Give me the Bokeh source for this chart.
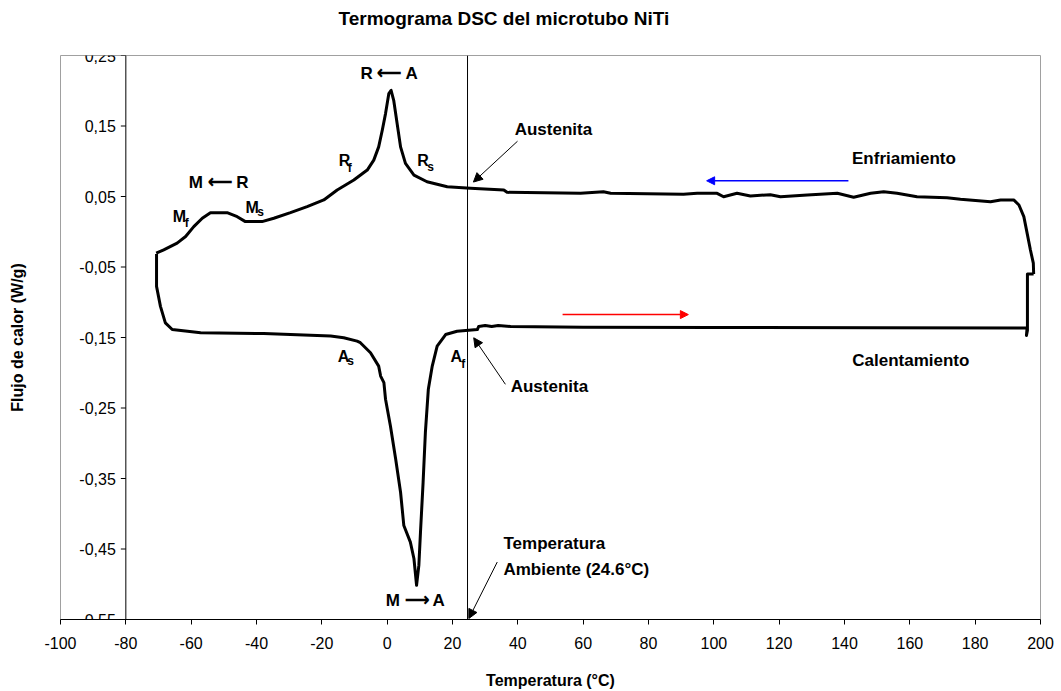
import math
from bokeh.plotting import figure
from bokeh.models import ColumnDataSource, LabelSet, Arrow, NormalHead, Span, FixedTicker, Title
from bokeh.core.properties import value
from bokeh.embed import file_html
from bokeh.resources import INLINE

# ---------------- data ----------------
# Cooling run (Enfriamiento): temperature (°C) and heat flow (W/g), in measured order
cool_T = [197.9, 197.9, 197.8, 196.9, 195.9, 194.9, 193.4, 191.8, 187.8, 184.7, 175.5, 171.4,
          162.2, 156.1, 152.0, 148.0, 142.8, 137.8, 128.6, 120.4, 117.3, 111.2, 107.1, 103.0,
          101.0, 94.9, 90.7, 68.4, 66.2, 59.2, 36.7, 35.7, 25.5, 18.4, 12.2, 8.2, 5.6, 4.1,
          2.9, 2.0, 1.2, 0.5, -0.5, -1.5, -2.6, -4.1, -6.1, -10.2, -15.3, -19.4, -24.5, -29.6,
          -34.7, -38.3, -43.4, -45.9, -49.0, -54.1, -56.6, -59.2, -61.7, -64.3, -68.4, -70.7]
cool_Q = [-0.060, -0.0585, -0.0444, -0.0256, -0.0020, 0.0214, 0.0380, 0.0451, 0.0451, 0.0426,
          0.0460, 0.0483, 0.0497, 0.0545, 0.0568, 0.0545, 0.0489, 0.0545, 0.0521, 0.0497,
          0.0526, 0.0507, 0.0545, 0.0497, 0.0545, 0.0545, 0.0531, 0.0545, 0.0568, 0.0545,
          0.0559, 0.0592, 0.0616, 0.0639, 0.0709, 0.0804, 0.0969, 0.1204, 0.1581, 0.1864,
          0.2005, 0.1959, 0.1676, 0.1440, 0.1204, 0.1016, 0.0875, 0.0733, 0.0592, 0.0451,
          0.0356, 0.0271, 0.0192, 0.0144, 0.0144, 0.0214, 0.0271, 0.0271, 0.0192, 0.0073,
          -0.0068, -0.0161, -0.0256, -0.0303]

# Heating run (Calentamiento)
heat_T = [-70.6, -70.6, -69.4, -67.9, -65.8, -57.1, -37.8, -21.4, -17.3, -13.3, -9.2, -8.2,
          -5.1, -2.6, -2.0, -1.0, -0.5, 1.0, 2.6, 4.1, 5.1, 7.1, 8.2, 9.0, 9.7, 10.2, 11.0,
          11.7, 12.6, 13.8, 15.3, 17.9, 21.4, 27.6, 28.0, 30.0, 32.0, 34.0, 37.8, 60.0, 100.0,
          150.0, 195.9, 195.7, 196.0, 196.0, 197.9]
heat_Q = [-0.0317, -0.0775, -0.1058, -0.1292, -0.1387, -0.1434, -0.1443, -0.1472, -0.1480,
          -0.1504, -0.1552, -0.1574, -0.1716, -0.1906, -0.2047, -0.2140, -0.2376, -0.2754,
          -0.3224, -0.3695, -0.4167, -0.4402, -0.4638, -0.5015, -0.4733, -0.4261, -0.3554,
          -0.2847, -0.2235, -0.1906, -0.1623, -0.1458, -0.1411, -0.1387, -0.1345, -0.1330,
          -0.1345, -0.1330, -0.1345, -0.1355, -0.1358, -0.1360, -0.1365, -0.1470, -0.1400,
          -0.0600, -0.0600]

x_ticks = [-100, -80, -60, -40, -20, 0, 20, 40, 60, 80, 100, 120, 140, 160, 180, 200]
x_tick_labels = ["-100", "-80", "-60", "-40", "-20", "0", "20", "40", "60", "80", "100",
                 "120", "140", "160", "180", "200"]
y_ticks = [0.25, 0.15, 0.05, -0.05, -0.15, -0.25, -0.35, -0.45, -0.55]
y_tick_labels = ["0,25", "0,15", "0,05", "-0,05", "-0,15", "-0,25", "-0,35", "-0,45", "-0,55"]

t_ambiente = 24.6

# main annotation texts (centered)
ann_text = ["R \u27f5 A", "M \u27f5 R", "M \u27f6 A", "Austenita", "Enfriamiento", "Calentamiento"]
ann_x = [0.7, -51.6, 8.7, 50.9, 158.2, 160.3]
ann_y = [0.2246, 0.0705, -0.5231, 0.1454, 0.1044, -0.1825]

# left-aligned annotation texts
lft_text = ["Austenita", "Temperatura", "Ambiente (24.6\u00b0C)"]
lft_x = [37.8, 35.6, 35.6]
lft_y = [-0.2193, -0.4426, -0.4793]

# transformation-point labels: main letter + subscript
pt_main = ["M", "M", "R", "R", "A", "A"]
pt_main_x = [-65.6, -43.4, -14.8, 9.2, -15.1, 19.4]
pt_main_y = [0.0214, 0.0347, 0.1016, 0.1016, -0.1773, -0.1769]
pt_sub = ["f", "s", "f", "s", "s", "f"]
pt_sub_x = [-62.0, -39.8, -12.05, 12.25, -12.2, 22.7]
pt_sub_y = [0.0125, 0.0285, 0.0903, 0.0913, -0.1835, -0.1882]

# pointer arrows (start -> end)
ptr_x0 = [39.9, 36.2, 33.7]
ptr_y0 = [0.1284, -0.2164, -0.4685]
ptr_x1 = [26.4, 26.5, 25.0]
ptr_y1 = [0.0705, -0.1504, -0.5486]

# direction arrows
cool_arrow = dict(x0=141.2, x1=97.8, y=0.0723)
heat_arrow = dict(x0=53.7, x1=92.2, y=-0.1175)

FONT = value("Liberation Sans")

# ---------------- figure ----------------
p = figure(width=1061, height=691, x_range=(-100, 200), y_range=(-0.55, 0.25),
           output_backend="svg", toolbar_location=None, title=None,
           min_border_left=60, min_border_right=21, min_border_top=55, min_border_bottom=70)
p.background_fill_color = "white"
p.border_fill_color = "white"
p.outline_line_color = "#a0a0a0"
p.xgrid.visible = False
p.ygrid.visible = False

# spacer between frame and title, then the title itself (outermost)
p.add_layout(Title(text=" ", text_font_size="1px", standoff=18), "above")
p.add_layout(Title(text="Termograma DSC del microtubo NiTi", text_font="Liberation Sans",
                   text_font_size="19px", text_font_style="bold", text_color="black",
                   align="left", offset=278, standoff=11), "above")

# x axis
p.xaxis.ticker = FixedTicker(ticks=x_ticks)
p.xaxis.major_label_overrides = dict(zip(x_ticks, x_tick_labels))
p.xaxis.axis_label = "Temperatura (\u00b0C)"
p.xaxis.axis_label_text_font = "Liberation Sans"
p.xaxis.axis_label_text_font_style = "bold"
p.xaxis.axis_label_text_font_size = "16px"
p.xaxis.axis_label_text_color = "black"
p.xaxis.axis_label_standoff = 20
p.xaxis.major_label_text_font = "Liberation Sans"
p.xaxis.major_label_text_font_size = "16px"
p.xaxis.major_label_standoff = 12
p.xaxis.major_tick_out = 5
p.xaxis.major_tick_in = 0
p.xaxis.minor_tick_line_color = None
p.xaxis.axis_line_color = "black"
p.xaxis.major_tick_line_color = "black"
p.xaxis.major_label_text_color = "black"

# y axis: only the title lives in the side panel; the axis itself sits at x = -80
p.yaxis.ticker = FixedTicker(ticks=[])
p.yaxis.axis_line_color = None
p.yaxis.major_tick_line_color = None
p.yaxis.minor_tick_line_color = None
p.yaxis.axis_label = "Flujo de calor (W/g)"
p.yaxis.axis_label_text_font = "Liberation Sans"
p.yaxis.axis_label_text_font_style = "bold"
p.yaxis.axis_label_text_font_size = "16px"
p.yaxis.axis_label_text_color = "black"
p.yaxis.axis_label_standoff = 35

p.add_layout(Span(location=-80, dimension="height", line_color="black", line_width=1))
p.ray(x=[-80] * len(y_ticks), y=y_ticks, length=5, length_units="screen", angle=math.pi,
      line_color="black", line_width=1)
ysrc = ColumnDataSource(dict(x=[-80] * len(y_ticks), y=y_ticks, text=y_tick_labels))
p.add_layout(LabelSet(x="x", y="y", text="text", source=ysrc, x_offset=-10,
                      text_align="right", text_baseline="middle", text_font=FONT,
                      text_font_size="16px", text_color="black"), "left")

# ambient temperature line
p.add_layout(Span(location=t_ambiente, dimension="height", line_color="black", line_width=1))

# curves
p.line(heat_T, heat_Q, line_color="black", line_width=3, line_join="round")
p.line(cool_T, cool_Q, line_color="black", line_width=3, line_join="round")

# texts
p.text(x=ann_x, y=ann_y, text=ann_text, text_font=FONT, text_font_style="bold",
       text_font_size="17px", text_align="center", text_baseline="middle", text_color="black")
p.text(x=lft_x, y=lft_y, text=lft_text, text_font=FONT, text_font_style="bold",
       text_font_size="17px", text_align="left", text_baseline="middle", text_color="black")
p.text(x=pt_main_x, y=pt_main_y, text=pt_main, text_font=FONT, text_font_style="bold",
       text_font_size="16px", text_align="left", text_baseline="middle", text_color="black")
p.text(x=pt_sub_x, y=pt_sub_y, text=pt_sub, text_font=FONT, text_font_style="bold",
       text_font_size="12px", text_align="left", text_baseline="middle", text_color="black")

# pointer arrows
for x0, y0, x1, y1 in zip(ptr_x0, ptr_y0, ptr_x1, ptr_y1):
    p.add_layout(Arrow(x_start=x0, y_start=y0, x_end=x1, y_end=y1, line_color="black",
                       line_width=1,
                       end=NormalHead(size=9, fill_color="black", line_color="black")))

p.add_layout(Arrow(x_start=cool_arrow["x0"], y_start=cool_arrow["y"], x_end=cool_arrow["x1"],
                   y_end=cool_arrow["y"], line_color="#0000ff", line_width=1.5,
                   end=NormalHead(size=8, fill_color="#0000ff", line_color="#0000ff")))
p.add_layout(Arrow(x_start=heat_arrow["x0"], y_start=heat_arrow["y"], x_end=heat_arrow["x1"],
                   y_end=heat_arrow["y"], line_color="#ff0000", line_width=1.5,
                   end=NormalHead(size=8, fill_color="#ff0000", line_color="#ff0000")))

open("out.html", "w").write(file_html(p, INLINE))
